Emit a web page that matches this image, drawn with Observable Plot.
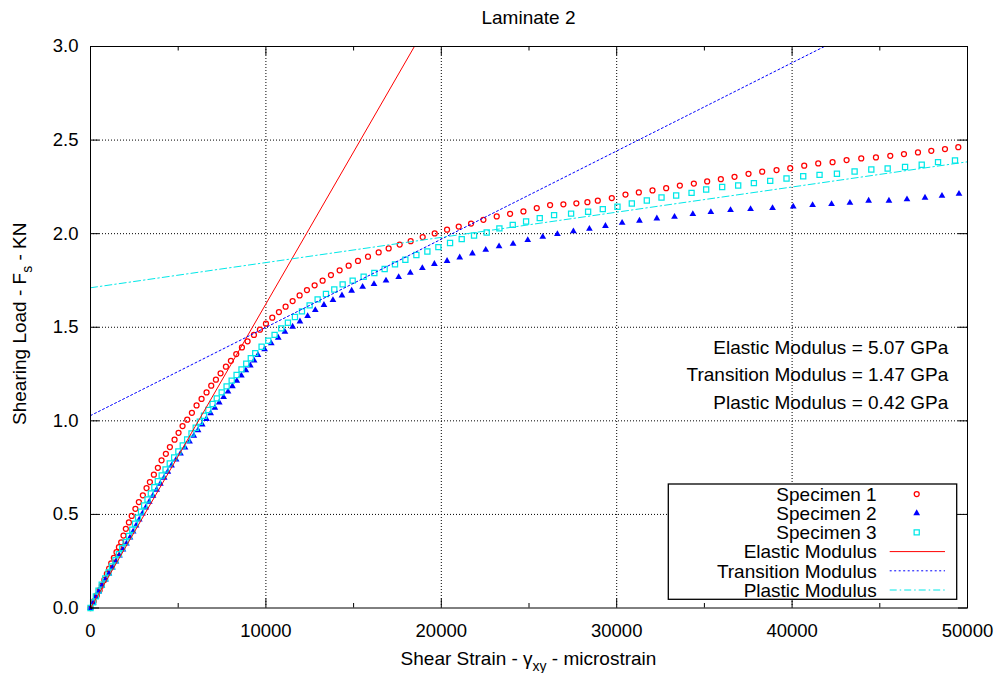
<!DOCTYPE html>
<html>
<head>
<meta charset="utf-8">
<script src="https://cdn.jsdelivr.net/npm/d3@7"></script>
<script src="https://cdn.jsdelivr.net/npm/@observablehq/plot@0.6"></script>
<style>
  html, body { margin: 0; padding: 0; background: #ffffff; }
  svg { display: block; }
</style>
</head>
<body>
<div id="chart"></div>
<script>
// ---------------- DATA ----------------
const chartTitle = "Laminate 2";
const seriesNames = ["Specimen 1", "Specimen 2", "Specimen 3"];
const moduliNames = ["Elastic Modulus", "Transition Modulus", "Plastic Modulus"];
const moduliGPa = [5.07, 1.47, 0.42];

const xTicks = [0, 10000, 20000, 30000, 40000, 50000];
const xMinorTicks = [5000, 15000, 25000, 35000, 45000];
const yTicks = [0.0, 0.5, 1.0, 1.5, 2.0, 2.5, 3.0];

// [shear strain (microstrain), shearing load (kN)]
const specimen1 = [[0,0],[180,0.035],[361,0.067],[520,0.095],[647,0.120],[790,0.150],[932,0.182],[1060,0.210],[1179,0.239],[1330,0.268],[1483,0.298],[1620,0.325],[1749,0.351],[1880,0.387],[2015,0.423],[2190,0.457],[2350,0.492],[2560,0.530],[2757,0.566],[2985,0.602],[3194,0.641],[3385,0.673],[3613,0.712],[3841,0.749],[4050,0.789],[4297,0.824],[4526,0.860],[4792,0.899],[5020,0.936],[5248,0.972],[5514,1.006],[5781,1.043],[6047,1.082],[6332,1.117],[6617,1.152],[6883,1.188],[7150,1.220],[7416,1.254],[7720,1.289],[8005,1.321],[8310,1.357],[8633,1.392],[8956,1.425],[9317,1.459],[9660,1.487],[10002,1.519],[10363,1.551],[10743,1.581],[11123,1.610],[11523,1.640],[11922,1.670],[12340,1.699],[12778,1.724],[13234,1.749],[13709,1.779],[14204,1.804],[14718,1.829],[15250,1.854],[15821,1.877],[16429,1.900],[16999,1.921],[17627,1.942],[18254,1.960],[18939,1.982],[19624,2.001],[20328,2.021],[20993,2.038],[21697,2.054],[22400,2.074],[23160,2.092],[23921,2.106],[24682,2.119],[25442,2.137],[26202,2.153],[26960,2.157],[27700,2.162],[28330,2.168],[28922,2.176],[29720,2.190],[30500,2.209],[31261,2.220],[32041,2.231],[32820,2.243],[33600,2.257],[34398,2.268],[35157,2.279],[35937,2.291],[36717,2.304],[37515,2.320],[38295,2.331],[39113,2.340],[39893,2.350],[40691,2.363],[41489,2.375],[42307,2.382],[43106,2.393],[43942,2.402],[44780,2.407],[45597,2.416],[46377,2.425],[47176,2.434],[47936,2.443],[48716,2.452],[49475,2.462]];

const specimen2 = [[0,0],[150,0.028],[310,0.058],[470,0.088],[650,0.120],[850,0.152],[1050,0.184],[1250,0.216],[1450,0.248],[1650,0.280],[1850,0.312],[2050,0.344],[2250,0.376],[2430,0.408],[2600,0.440],[2780,0.472],[2960,0.504],[3150,0.536],[3350,0.568],[3560,0.600],[3770,0.632],[3980,0.664],[4200,0.696],[4410,0.728],[4620,0.761],[4880,0.793],[5130,0.825],[5390,0.857],[5647,0.889],[5890,0.920],[6130,0.950],[6370,0.980],[6610,1.010],[6850,1.040],[7090,1.069],[7340,1.098],[7590,1.127],[7840,1.156],[8090,1.185],[8340,1.214],[8600,1.242],[8860,1.270],[9110,1.296],[9330,1.322],[9546,1.352],[9926,1.382],[10306,1.414],[10705,1.444],[11085,1.475],[11523,1.503],[11941,1.531],[12379,1.560],[12816,1.592],[13310,1.619],[13823,1.645],[14337,1.670],[14889,1.695],[15515,1.716],[16163,1.731],[16847,1.749],[17570,1.768],[18234,1.791],[18919,1.816],[19606,1.838],[20328,1.854],[21050,1.873],[21773,1.894],[22533,1.914],[23293,1.932],[24092,1.946],[24929,1.966],[25785,1.983],[26619,1.998],[27532,2.012],[28445,2.026],[29358,2.041],[30309,2.058],[31298,2.069],[32288,2.081],[33296,2.090],[34341,2.105],[35368,2.115],[36489,2.126],[37632,2.131],[38885,2.137],[40064,2.145],[41168,2.153],[42250,2.158],[43297,2.165],[44364,2.176],[45522,2.176],[46550,2.183],[47577,2.192],[48545,2.202],[49515,2.213]];

const specimen3 = [[0,0],[150,0.030],[305,0.062],[456,0.093],[640,0.125],[840,0.158],[1030,0.190],[1220,0.222],[1420,0.255],[1620,0.288],[1810,0.320],[2000,0.352],[2200,0.385],[2380,0.418],[2540,0.450],[2710,0.483],[2880,0.515],[3060,0.548],[3250,0.580],[3440,0.612],[3640,0.645],[3840,0.677],[4060,0.708],[4280,0.740],[4520,0.772],[4770,0.804],[5010,0.836],[5260,0.868],[5510,0.900],[5760,0.932],[6000,0.963],[6230,0.995],[6470,1.027],[6720,1.058],[6960,1.090],[7200,1.120],[7480,1.152],[7760,1.184],[8050,1.215],[8330,1.245],[8610,1.275],[8880,1.305],[9140,1.334],[9393,1.362],[9755,1.396],[10135,1.428],[10496,1.459],[10876,1.494],[11256,1.524],[11656,1.555],[12055,1.585],[12493,1.617],[12949,1.649],[13424,1.678],[13899,1.702],[14376,1.729],[14946,1.749],[15573,1.770],[16183,1.790],[16771,1.811],[17361,1.836],[17951,1.861],[18579,1.886],[19206,1.905],[19833,1.928],[20499,1.950],[21164,1.971],[21867,1.990],[22589,2.006],[23312,2.028],[24073,2.047],[24834,2.065],[25613,2.083],[26430,2.099],[27400,2.107],[28370,2.117],[29207,2.131],[30044,2.144],[30862,2.161],[31717,2.177],[32555,2.193],[33390,2.204],[34268,2.218],[35101,2.236],[36013,2.249],[36926,2.257],[37821,2.270],[38752,2.282],[39682,2.295],[40634,2.307],[41565,2.314],[42556,2.320],[43563,2.332],[44516,2.343],[45448,2.348],[46440,2.356],[47390,2.368],[48320,2.382],[49287,2.391]];

// fitted modulus lines (end points)
const elasticLine = [[0, 0.0], [18466, 3.0]];
const transitionLine = [[0, 1.028], [41842, 3.0]];
const plasticLine = [[0, 1.711], [50000, 2.384]];

// ---------------- STYLE / LAYOUT ----------------
const W = 998, H = 673;
const ML = 90, MR = 31, MT = 46, MB = 65.5;
const FONT = "'Liberation Sans', Arial, Helvetica, sans-serif";
const COLORS = ["#ff0000", "#0000ff", "#00e8e8"];
const DASH_TRANSITION = "2,2.5";
const DASH_PLASTIC = "7,3,1.5,3";
const R_CIRCLE = 2.5, R_TRI = 2.5, R_SQUARE = 2.9, MARK_SW = 1.25;
const xDomain = [0, 50000], yDomain = [0, 3];

const innerW = W - ML - MR, innerH = H - MT - MB;
const pxX = (xDomain[1] - xDomain[0]) / innerW;  // data units per px
const pxY = (yDomain[1] - yDomain[0]) / innerH;
const MAJOR = 9, MINOR = 4.5;                    // tick lengths in px

const gridX = xTicks.slice(1, -1), gridY = yTicks.slice(1, -1);
const X = d => d[0], Y = d => d[1];

const chart = Plot.plot({
  width: W, height: H,
  marginLeft: ML, marginRight: MR, marginTop: MT, marginBottom: MB,
  style: { fontFamily: FONT, fontSize: "18.5px", color: "#000", background: "#fff" },
  x: { domain: xDomain, label: null },
  y: { domain: yDomain, label: null },
  marks: [
    Plot.ruleX(gridX, { stroke: "#000", strokeWidth: 1, strokeDasharray: "1,2" }),
    Plot.ruleY(gridY, { stroke: "#000", strokeWidth: 1, strokeDasharray: "1,2" }),
    Plot.dot(specimen1, { x: X, y: Y, symbol: "circle", r: R_CIRCLE, stroke: COLORS[0], fill: "none", strokeWidth: MARK_SW }),
    Plot.dot(specimen2, { x: X, y: Y, symbol: "triangle", r: R_TRI, fill: COLORS[1], stroke: "none" }),
    Plot.dot(specimen3, { x: X, y: Y, symbol: "square", r: R_SQUARE, stroke: COLORS[2], fill: "none", strokeWidth: MARK_SW }),
    Plot.line(elasticLine, { x: X, y: Y, stroke: COLORS[0], strokeWidth: 1 }),
    Plot.line(transitionLine, { x: X, y: Y, stroke: COLORS[1], strokeWidth: 1, strokeDasharray: DASH_TRANSITION }),
    Plot.line(plasticLine, { x: X, y: Y, stroke: COLORS[2], strokeWidth: 1, strokeDasharray: DASH_PLASTIC }),
    Plot.ruleX(xTicks, { y1: yDomain[0], y2: yDomain[0] + MAJOR * pxY, stroke: "#000" }),
    Plot.ruleX(xTicks, { y1: yDomain[1], y2: yDomain[1] - MAJOR * pxY, stroke: "#000" }),
    Plot.ruleX(xMinorTicks, { y1: yDomain[0], y2: yDomain[0] + MINOR * pxY, stroke: "#000" }),
    Plot.ruleX(xMinorTicks, { y1: yDomain[1], y2: yDomain[1] - MINOR * pxY, stroke: "#000" }),
    Plot.ruleY(yTicks, { x1: xDomain[0], x2: xDomain[0] + MAJOR * pxX, stroke: "#000" }),
    Plot.ruleY(yTicks, { x1: xDomain[1], x2: xDomain[1] - MAJOR * pxX, stroke: "#000" }),
    Plot.frame({ stroke: "#000", strokeWidth: 1 }),
    Plot.axisX({ ticks: xTicks, tickSize: 0, tickPadding: 16, tickFormat: d => String(d), fontSize: 18.5 }),
    Plot.axisY({ ticks: yTicks, tickSize: 0, tickPadding: 12, tickFormat: d => d.toFixed(1), fontSize: 18.5 })
  ]
});

document.getElementById("chart").appendChild(chart);

// ---------------- texts, annotations, legend ----------------
const svg = d3.select(chart);
const sx = chart.scale("x"), sy = chart.scale("y");
const fL = sx.range[0], fR = sx.range[1];
const fB = sy.range[0], fT = sy.range[1];
const fCx = (fL + fR) / 2;

const ann = svg.insert("g", ":first-child")
  .attr("font-family", FONT).attr("font-size", 19).attr("fill", "#000").attr("text-anchor", "end");
moduliNames.forEach((n, i) => {
  ann.append("text")
    .attr("x", fR - 18.7)
    .attr("y", 353.8 + i * 27.5)
    .text(`${n} = ${moduliGPa[i].toFixed(2)} GPa`);
});

const txt = svg.append("g").attr("font-family", FONT).attr("fill", "#000");

txt.append("text").attr("x", fCx).attr("y", fT - 22).attr("text-anchor", "middle")
  .attr("font-size", 19).text(chartTitle);

const xl = txt.append("text").attr("x", fCx).attr("y", fB + 57.5)
  .attr("text-anchor", "middle").attr("font-size", 19);
xl.append("tspan").text("Shear Strain - \u03B3");
xl.append("tspan").attr("font-size", 14).attr("dy", 6).text("xy");
xl.append("tspan").attr("dy", -6).text(" - microstrain");

const yl = txt.append("text")
  .attr("transform", `translate(${fL - 64.5},${(fT + fB) / 2 - 3}) rotate(-90)`)
  .attr("text-anchor", "middle").attr("font-size", 19);
yl.append("tspan").text("Shearing Load - F");
yl.append("tspan").attr("font-size", 14).attr("dy", 6).text("s");
yl.append("tspan").attr("dy", -6).text(" - KN");

const lg = svg.append("g").attr("font-family", FONT).attr("font-size", 19);
const boxL = fR - 298.7, boxR = fR - 10.3, boxT = fB - 123.5, boxB = fB - 8.2;
lg.append("rect").attr("x", boxL).attr("y", boxT).attr("width", boxR - boxL).attr("height", boxB - boxT)
  .attr("fill", "#fff").attr("stroke", "#000").attr("stroke-width", 1.3);
const rowY = i => boxT + 10 + i * 19.2;
const textX = fR - 90.3, markX = fR - 50.3, lineX1 = fR - 77.3, lineX2 = fR - 22;
const legendItems = [
  { name: seriesNames[0], kind: "circle" },
  { name: seriesNames[1], kind: "triangle" },
  { name: seriesNames[2], kind: "square" },
  { name: moduliNames[0], kind: "line", dash: null, color: COLORS[0] },
  { name: moduliNames[1], kind: "line", dash: DASH_TRANSITION, color: COLORS[1] },
  { name: moduliNames[2], kind: "line", dash: DASH_PLASTIC, color: COLORS[2] }
];
legendItems.forEach((it, i) => {
  const y = rowY(i);
  lg.append("text").attr("x", textX).attr("y", y + 6.8).attr("text-anchor", "end").attr("fill", "#000").text(it.name);
  if (it.kind === "line") {
    lg.append("line").attr("x1", lineX1).attr("x2", lineX2).attr("y1", y).attr("y2", y)
      .attr("stroke", it.color).attr("stroke-width", 1).attr("stroke-dasharray", it.dash);
  } else if (it.kind === "circle") {
    lg.append("path").attr("transform", `translate(${markX},${y})`)
      .attr("d", d3.symbol(d3.symbolCircle, Math.PI * R_CIRCLE * R_CIRCLE)())
      .attr("fill", "none").attr("stroke", COLORS[0]).attr("stroke-width", MARK_SW);
  } else if (it.kind === "triangle") {
    lg.append("path").attr("transform", `translate(${markX},${y})`)
      .attr("d", d3.symbol(d3.symbolTriangle, Math.PI * R_TRI * R_TRI)())
      .attr("fill", COLORS[1]);
  } else {
    lg.append("path").attr("transform", `translate(${markX},${y})`)
      .attr("d", d3.symbol(d3.symbolSquare, Math.PI * R_SQUARE * R_SQUARE)())
      .attr("fill", "none").attr("stroke", COLORS[2]).attr("stroke-width", MARK_SW);
  }
});
</script>
</body>
</html>
